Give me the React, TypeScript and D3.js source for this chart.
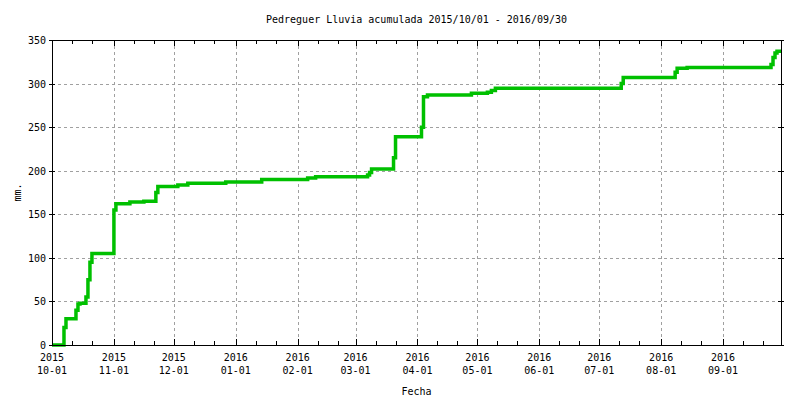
import React, { useRef, useEffect } from 'react';
import * as d3 from 'd3';

// Lluvia acumulada (mm) - fecha del cambio y total acumulado
const fechas: string[] = [
    '2015-10-01', '2015-10-07', '2015-10-08', '2015-10-13', '2015-10-14', '2015-10-15',
    '2015-10-18', '2015-10-19', '2015-10-20', '2015-10-21', '2015-11-01', '2015-11-02',
    '2015-11-09', '2015-11-16', '2015-11-22', '2015-11-23', '2015-12-03', '2015-12-08',
    '2015-12-27', '2016-01-14', '2016-02-06', '2016-02-10', '2016-03-07', '2016-03-08',
    '2016-03-09', '2016-03-20', '2016-03-21', '2016-04-03', '2016-04-04', '2016-04-06',
    '2016-04-28', '2016-05-06', '2016-05-08', '2016-05-10', '2016-07-12', '2016-07-13',
    '2016-08-08', '2016-08-09', '2016-08-14', '2016-09-25', '2016-09-26', '2016-09-27',
    '2016-09-28', '2016-09-30',
];
const acumulado: number[] = [
    0, 20, 30, 40, 47, 48,
    55, 75, 95, 105, 155, 162,
    164, 165, 175, 182, 183.5, 185.5,
    187, 190, 191.5, 193, 195, 198,
    202, 215, 239, 250, 285, 287,
    289, 290, 292, 294.5, 300, 307,
    313, 317.5, 318.5, 322, 330, 335,
    337, 337,
];
const yTicks: number[] = [0, 50, 100, 150, 200, 250, 300, 350];
const titulo = 'Pedreguer Lluvia acumulada 2015/10/01 - 2016/09/30';

const parse = d3.timeParse('%Y-%m-%d');

const App: React.FC = () => {
    const ref = useRef<SVGSVGElement>(null);

    useEffect(() => {
        const svg = d3.select(ref.current);
        svg.selectAll('*').remove();

        const margin = { top: 40, right: 19, bottom: 55, left: 52 };
        const width = 800 - margin.left - margin.right;
        const height = 400 - margin.top - margin.bottom;
        const font = 'DejaVu Sans Mono, monospace';

        const data = fechas.map((f, i) => ({ date: parse(f)!, value: acumulado[i] }));

        const x = d3.scaleTime()
            .domain([parse('2015-10-01')!, parse('2016-09-30')!])
            .range([0, width]);
        const y = d3.scaleLinear().domain([0, 350]).range([height, 0]);

        svg.append('rect').attr('width', 800).attr('height', 400).attr('fill', '#fff');

        svg.append('text')
            .attr('x', margin.left + width / 2)
            .attr('y', 23)
            .attr('text-anchor', 'middle')
            .style('font-family', font)
            .style('font-size', '10px')
            .text(titulo);

        const g = svg.append('g').attr('transform', `translate(${margin.left},${margin.top})`);

        const meses = d3.timeMonth.range(parse('2015-10-01')!, parse('2016-10-01')!);
        const menores = meses.flatMap(m => [d3.timeDay.offset(m, 10), d3.timeDay.offset(m, 20)]);

        // rejilla
        g.selectAll('.gx')
            .data(meses.slice(1))
            .enter()
            .append('line')
            .attr('x1', d => Math.round(x(d)) + 0.5)
            .attr('x2', d => Math.round(x(d)) + 0.5)
            .attr('y1', 0)
            .attr('y2', height)
            .attr('stroke', '#a0a0a0')
            .attr('stroke-dasharray', '3,3');
        g.selectAll('.gy')
            .data(yTicks.slice(1, -1))
            .enter()
            .append('line')
            .attr('x1', 0)
            .attr('x2', width)
            .attr('y1', d => Math.round(y(d)) + 0.5)
            .attr('y2', d => Math.round(y(d)) + 0.5)
            .attr('stroke', '#a0a0a0')
            .attr('stroke-dasharray', '3,3');

        // marcas
        const tickX = (arr: Date[], len: number) => {
            arr.forEach(d => {
                const px = Math.round(x(d)) + 0.5;
                g.append('line').attr('x1', px).attr('x2', px).attr('y1', height).attr('y2', height - len).attr('stroke', '#000');
                g.append('line').attr('x1', px).attr('x2', px).attr('y1', 0).attr('y2', len).attr('stroke', '#000');
            });
        };
        tickX(meses, 6);
        tickX(menores, 4);
        yTicks.forEach(v => {
            const py = Math.round(y(v)) + 0.5;
            g.append('line').attr('x1', -3).attr('x2', 3).attr('y1', py).attr('y2', py).attr('stroke', '#000');
            g.append('line').attr('x1', width - 3).attr('x2', width + 3).attr('y1', py).attr('y2', py).attr('stroke', '#000');
        });

        // etiquetas
        g.selectAll('.ly')
            .data(yTicks)
            .enter()
            .append('text')
            .attr('x', -6)
            .attr('y', d => y(d) + 4)
            .attr('text-anchor', 'end')
            .style('font-family', font)
            .style('font-size', '10px')
            .text(d => d);
        const fy = d3.timeFormat('%Y');
        const fm = d3.timeFormat('%m-%d');
        meses.slice(0, 12).forEach(m => {
            g.append('text')
                .attr('x', x(m))
                .attr('y', height + 16)
                .attr('text-anchor', 'middle')
                .style('font-family', font)
                .style('font-size', '10px')
                .text(fy(m));
            g.append('text')
                .attr('x', x(m))
                .attr('y', height + 29)
                .attr('text-anchor', 'middle')
                .style('font-family', font)
                .style('font-size', '10px')
                .text(fm(m));
        });

        svg.append('text')
            .attr('x', margin.left + width / 2)
            .attr('y', 395)
            .attr('text-anchor', 'middle')
            .style('font-family', font)
            .style('font-size', '10px')
            .text('Fecha');
        svg.append('text')
            .attr('transform', `translate(21,${margin.top + height / 2}) rotate(-90)`)
            .attr('text-anchor', 'middle')
            .style('font-family', font)
            .style('font-size', '10px')
            .text('mm.');

        // linea
        const line = d3.line<{ date: Date; value: number }>()
            .x(d => x(d.date))
            .y(d => y(d.value))
            .curve(d3.curveStepAfter);
        g.append('path')
            .datum(data)
            .attr('d', line)
            .attr('fill', 'none')
            .attr('stroke', '#00c000')
            .attr('stroke-width', 3.5);

        // marco
        g.append('rect')
            .attr('x', 0.5)
            .attr('y', 0.5)
            .attr('width', width)
            .attr('height', height)
            .attr('fill', 'none')
            .attr('stroke', '#000');
    }, []);

    return (
        <svg ref={ref} width={800} height={400}
            style={{ position: 'absolute', left: 0, top: 0, display: 'block' }} />
    );
};

export default App;
